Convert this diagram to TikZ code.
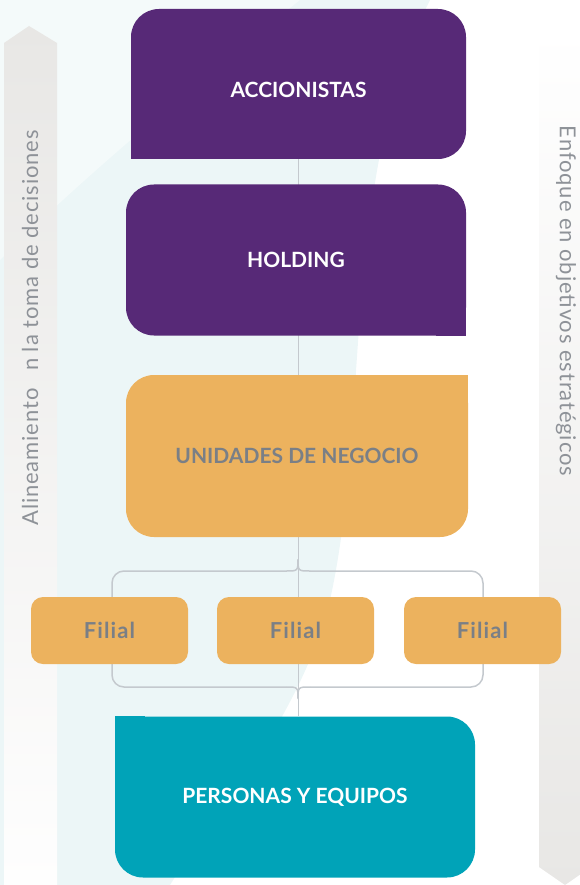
\documentclass[tikz,border=0pt]{standalone}
\usepackage{fontspec}
\setmainfont{Lato}
\usetikzlibrary{backgrounds}
\definecolor{purp}{RGB}{87,41,119}
\definecolor{gold}{RGB}{236,178,94}
\definecolor{sea}{RGB}{0,163,184}
\definecolor{ink}{RGB}{122,127,134}
\definecolor{wire}{RGB}{196,201,206}
\definecolor{rail}{RGB}{232,231,229}
\definecolor{wash}{RGB}{236,246,247}
\pgfdeclarelayer{deep}
\pgfsetlayers{deep,background,main}

\begin{document}
\begin{tikzpicture}[x=1pt,y=-1pt,
    box/.style = {rounded corners=28pt, inner sep=0pt, font=\fontsize{21}{24}\selectfont\bfseries},
    filial/.style = {fill=gold, text=ink, rounded corners=12pt, minimum width=157pt, minimum height=67pt, inner sep=0pt, font=\fontsize{22}{24}\selectfont\bfseries\addfontfeature{LetterSpace=5}},
    link/.style = {draw=wire, line width=1.5pt},
    side/.style = {text=ink!85, font=\fontsize{22}{24}\selectfont\addfontfeature{LetterSpace=4}}]
    \useasboundingbox (0,0) rectangle (579,885);

    % backdrop and side arrows
    \begin{pgfonlayer}{deep}
        \fill[wash] (0,0) -- (430,0) .. controls (340,180) and (370,420) .. (330,600) .. controls (300,720) and (210,820) .. (170,885) -- (0,885) -- cycle;
        \fill[wash!60!white] (0,0) -- (300,0) .. controls (150,120) and (60,200) .. (0,260) -- cycle;
        \shade[top color=rail, bottom color=white!96!rail] (4,885) -- (4,43) -- (29,26) -- (57,43) -- (57,885) -- cycle;
        \shade[top color=white, bottom color=rail] (539,28) -- (539,867) -- (565,885) -- (591,867) -- (591,28) -- cycle;
    \end{pgfonlayer}

    \node[side, rotate=90] (align) at (30,328) {Alineamiento\hspace{0.8em}n la toma de decisiones};
    \node[side, rotate=-90] (focus) at (566,301) {Enfoque en objetivos estratégicos};

    \node[box, fill=purp, text=white, minimum width=335pt, minimum height=150pt] (acc) at (298.5,84) {\raisebox{-6pt}[15pt][0pt]{ACCIONISTAS}};
    \fill[purp] (acc.south west) rectangle ++(30,-30);
    \node[box, fill=purp, text=white, minimum width=340pt, minimum height=151pt] (hol) at (296,260) {HOLDING};
    \fill[purp] (hol.south east) rectangle ++(-30,-30);
    \node[box, fill=gold, text=ink, minimum width=342pt, minimum height=162pt] (uni) at (297,456) {UNIDADES DE NEGOCIO};
    \fill[gold] (uni.north east) rectangle ++(-30,30);

    \node[filial] (fil1) at (109.5,630.5) {Filial};
    \node[filial] (fil2) at (295.5,630.5) {Filial};
    \node[filial] (fil3) at (482.5,630.5) {Filial};

    \node[box, fill=sea, text=white, minimum width=360pt, minimum height=161pt] (per) at (295,797) {PERSONAS Y EQUIPOS};
    \fill[sea] (per.north west) rectangle ++(30,30);

    \begin{scope}[on background layer]
        \draw[link] (acc.south) -- (acc.south |- per.north);
        % the two brackets round the filiales
        \draw[link, rounded corners=12pt] (286,571) -- (112,571) -- (112,687) -- (286,687);
        \draw[link, rounded corners=12pt] (310,571) -- (483,571) -- (483,687) -- (310,687);
        \draw[link] (286,571) .. controls (298,571) .. (298,559) .. controls (298,571) .. (310,571);
        \draw[link] (286,687) .. controls (298,687) .. (298,699) .. controls (298,687) .. (310,687);
    \end{scope}
\end{tikzpicture}
\end{document}
